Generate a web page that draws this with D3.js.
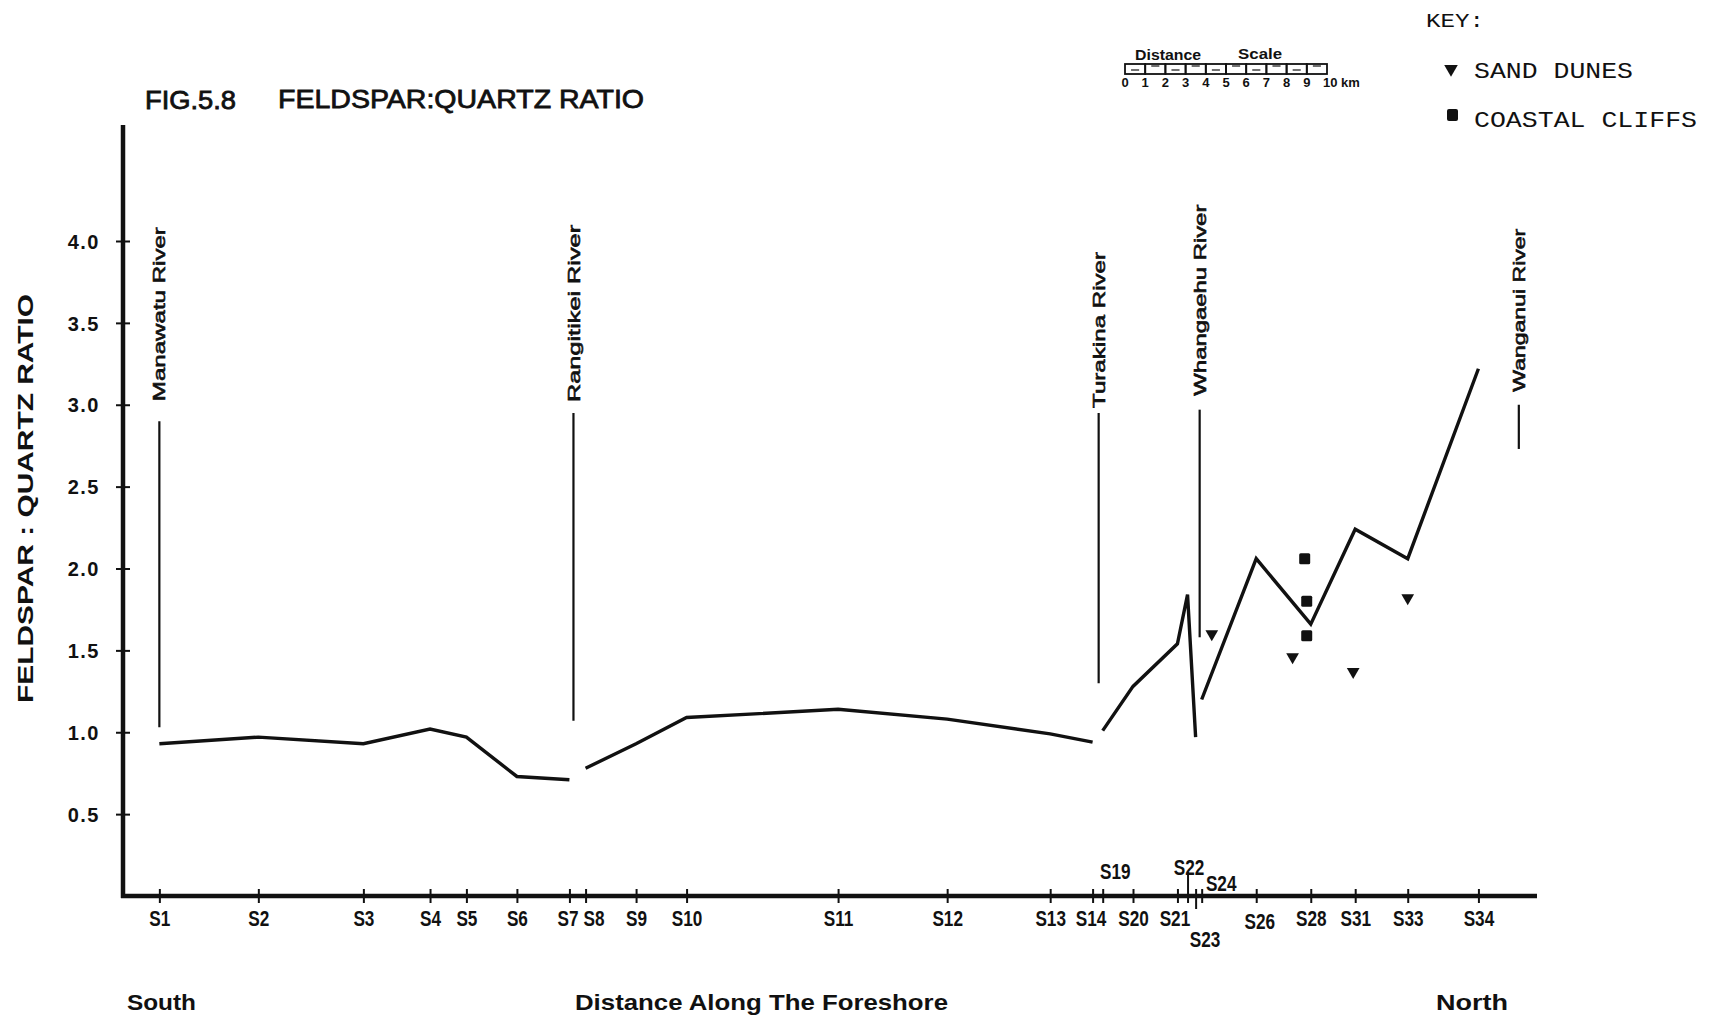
<!DOCTYPE html>
<html>
<head>
<meta charset="utf-8">
<title>Fig. 5.8 Feldspar:Quartz Ratio</title>
<script src="https://cdn.jsdelivr.net/npm/d3@7"></script>
<style>
  html, body { margin: 0; padding: 0; background: #fff; }
  svg { display: block; }
  text { fill: #111; }
</style>
</head>
<body>
<svg id="chart" width="1709" height="1026"></svg>
<script>
// ---- Sampling stations along the foreshore, south to north ----
const stations = ["S1","S2","S3","S4","S5","S6","S7","S8","S9","S10","S11","S12","S13","S14",
                  "S19","S20","S21","S22","S23","S24","S26","S28","S31","S33","S34"];
// distance along the foreshore (km)
const stationKm = [1.8, 6.7, 11.9, 15.2, 17.0, 19.5, 22.1, 22.9, 25.4, 27.9, 35.4, 40.8, 45.9, 48.0,
                   48.5, 50.0, 52.2, 52.7, 53.1, 53.4, 56.1, 58.8, 61.0, 63.6, 67.1];
// feldspar:quartz ratio of the foreshore sand
const ratio = [0.93, 0.97, 0.93, 1.02, 0.97, 0.73, 0.71, 0.78, 0.93, 1.09, 1.14, 1.08, 0.99, 0.94,
               1.01, 1.28, 1.54, 1.84, 0.97, 1.20, 2.06, 1.66, 2.24, 2.06, 3.22];
// reach between river mouths (the profile is broken at each river)
const reach = [0,0,0,0,0,0,0, 1,1,1,1,1,1,1, 2,2,2,2,2, 3,3,3,3,3,3];

// ---- Back-shore samples ----
const duneKm = [53.9, 57.9, 60.9, 63.6];
const duneRatio = [1.60, 1.46, 1.37, 1.82];
const cliffKm = [58.5, 58.6, 58.6];
const cliffRatio = [2.06, 1.80, 1.59];

// ---- River mouths ----
const riverNames = ["Manawatu River", "Rangitikei River", "Turakina River", "Whangaehu  River", "Wanganui River"];
const riverKm = [1.8, 22.3, 48.3, 53.3, 69.1];
const riverTop = [2.90, 2.95, 2.95, 2.97, 3.00];
const riverBottom = [1.03, 1.07, 1.30, 1.58, 2.73];

// ---- Axis ticks ----
const yTicks = [0.5, 1.0, 1.5, 2.0, 2.5, 3.0, 3.5, 4.0];
const scaleKm = [0,1,2,3,4,5,6,7,8,9,10];

// ---------------------------------------------------------------
const svg = d3.select("#chart");
const sans = "'Liberation Sans', Arial, Helvetica, sans-serif";
const mono = "'Liberation Mono', 'Courier New', monospace";

const x = d3.scaleLinear().domain([0, 70]).range([123, 1537]);
const y = d3.scaleLinear().domain([0, 4]).range([896, 241]);

// squeeze a text element horizontally to a given width
function fitWidth(sel, w) {
  sel.attr("textLength", w).attr("lengthAdjust", "spacingAndGlyphs");
}
function condense(sel, k) {
  sel.each(function () {
    const len = this.getComputedTextLength();
    d3.select(this).attr("textLength", len * k).attr("lengthAdjust", "spacingAndGlyphs");
  });
}
// medium weight: regular face with a thin outline
function medium(sel, w) {
  sel.style("font-weight", "normal").attr("stroke", "#111").attr("stroke-width", w);
}

// ---- Titles ----
svg.append("text").attr("x", 145).attr("y", 109)
  .style("font-family", sans).style("font-size", "25px")
  .text("FIG.5.8").call(medium, 0.8).call(fitWidth, 91);
svg.append("text").attr("x", 278).attr("y", 108)
  .style("font-family", sans).style("font-size", "26px")
  .text("FELDSPAR:QUARTZ RATIO").call(medium, 0.8).call(fitWidth, 366);

// ---- Y axis ----
const yAxis = d3.axisLeft(y).tickValues(yTicks).tickFormat(d3.format(".1f")).tickPadding(0);
const gy = svg.append("g").attr("transform", `translate(${x(0)},0)`).call(yAxis);
gy.select(".domain").remove();
gy.selectAll(".tick line").attr("x1", -7).attr("x2", 7).attr("stroke", "#111").attr("stroke-width", 2);
gy.selectAll(".tick text").attr("x", -23).attr("dy", "0.36em")
  .style("font-family", sans).style("font-size", "20px").style("font-weight", "bold")
  .style("letter-spacing", "1.5px").attr("fill", "#111");
svg.append("line").attr("x1", x(0)).attr("x2", x(0)).attr("y1", 125).attr("y2", y(0) + 2)
  .attr("stroke", "#111").attr("stroke-width", 4.5);

svg.append("text").attr("transform", `translate(33,${(294 + 703) / 2}) rotate(-90)`)
  .attr("text-anchor", "middle")
  .style("font-family", sans).style("font-size", "22px").style("font-weight", "bold")
  .text("FELDSPAR : QUARTZ RATIO").call(fitWidth, 409);

// ---- X axis ----
const xAxis = d3.axisBottom(x).tickValues(stationKm).tickFormat((d, i) => stations[i]).tickPadding(0);
const gx = svg.append("g").attr("transform", `translate(0,${y(0)})`).call(xAxis);
gx.select(".domain").remove();
gx.selectAll(".tick line").attr("y1", -7).attr("y2", 7).attr("stroke", "#111").attr("stroke-width", 2);
svg.append("line").attr("x1", x(0) - 2).attr("x2", 1537).attr("y1", y(0)).attr("y2", y(0))
  .attr("stroke", "#111").attr("stroke-width", 4.5);

// label placement for the crowded stations
const labelShift = {
  S7: [-2, 0], S8: [8, 0], S14: [-2, 0], S21: [-3, 0],
  S19: [12, -47], S22: [1, -51], S24: [19, -35], S23: [9, 21], S26: [3, 3]
};
gx.selectAll(".tick text")
  .attr("x", (d, i) => (labelShift[stations[i]] || [0, 0])[0])
  .attr("y", (d, i) => 22 + (labelShift[stations[i]] || [0, 0])[1])
  .attr("dy", "0.36em")
  .style("font-family", sans).style("font-size", "22px").style("font-weight", "bold")
  .attr("fill", "#111")
  .call(condense, 0.78);
// S22 tick reaches up to its label, S23 tick drops to its label
gx.selectAll(".tick line").filter((d, i) => stations[i] === "S22").attr("y1", -24);
gx.selectAll(".tick line").filter((d, i) => stations[i] === "S23").attr("y2", 13);

svg.append("text").attr("x", 127).attr("y", 1010)
  .style("font-family", sans).style("font-size", "22px").style("font-weight", "bold")
  .text("South").call(fitWidth, 69);
svg.append("text").attr("x", 575).attr("y", 1010)
  .style("font-family", sans).style("font-size", "22px").style("font-weight", "bold")
  .text("Distance  Along The Foreshore").call(fitWidth, 373);
svg.append("text").attr("x", 1436).attr("y", 1010)
  .style("font-family", sans).style("font-size", "22px").style("font-weight", "bold")
  .text("North").call(fitWidth, 72);

// ---- River mouths ----
const labelGap = [20, 11, 5, 14, 13];
const labelLen = [174, 177, 156, 191, 163];
const rivers = svg.append("g");
riverNames.forEach((name, i) => {
  const rx = x(riverKm[i]);
  rivers.append("line").attr("x1", rx).attr("x2", rx)
    .attr("y1", y(riverTop[i])).attr("y2", y(riverBottom[i]))
    .attr("stroke", "#111").attr("stroke-width", 2.2);
  rivers.append("text")
    .attr("transform", `translate(${rx},${y(riverTop[i]) - labelGap[i]}) rotate(-90)`)
    .attr("dy", "0.36em")
    .style("font-family", sans).style("font-size", "17px")
    .text(name).call(medium, 0.6).call(fitWidth, labelLen[i]);
});

// ---- Ratio profile ----
const pts = stations.map((s, i) => ({ km: stationKm[i], v: ratio[i], r: reach[i] }));
const line = d3.line().x(d => x(d.km)).y(d => y(d.v));
svg.append("g").selectAll("path")
  .data(d3.groups(pts, d => d.r).map(g => g[1]))
  .join("path")
  .attr("d", line)
  .attr("fill", "none").attr("stroke", "#111").attr("stroke-width", 3.4)
  .attr("stroke-linejoin", "miter");

// ---- Sand dune and coastal cliff samples ----
const tri = d3.symbol().type(d3.symbolTriangle).size(70);
svg.append("g").selectAll("path")
  .data(duneKm.map((k, i) => [k, duneRatio[i]]))
  .join("path")
  .attr("d", tri)
  .attr("transform", d => `translate(${x(d[0])},${y(d[1])}) rotate(180)`)
  .attr("fill", "#111");
svg.append("g").selectAll("rect")
  .data(cliffKm.map((k, i) => [k, cliffRatio[i]]))
  .join("rect")
  .attr("x", d => x(d[0]) - 5.5).attr("y", d => y(d[1]) - 5.5)
  .attr("width", 11).attr("height", 11).attr("rx", 1.5)
  .attr("fill", "#111");

// ---- Key ----
svg.append("text").attr("x", 1426).attr("y", 27)
  .style("font-family", mono).style("font-size", "20px").text("KEY:").call(fitWidth, 58);
svg.append("path").attr("d", d3.symbol().type(d3.symbolTriangle).size(80))
  .attr("transform", "translate(1451,69) rotate(180)").attr("fill", "#111");
svg.append("text").attr("x", 1474).attr("y", 78)
  .style("font-family", mono).style("font-size", "22px").text("SAND DUNES").call(fitWidth, 159);
svg.append("rect").attr("x", 1447).attr("y", 109).attr("width", 11).attr("height", 12).attr("rx", 2)
  .attr("fill", "#111");
svg.append("text").attr("x", 1474).attr("y", 127)
  .style("font-family", mono).style("font-size", "22px").text("COASTAL CLIFFS").call(fitWidth, 223);

// ---- Distance scale bar (same km scale as the x axis) ----
const sb = svg.append("g").attr("transform", `translate(${1125 - x(0)},0)`);
sb.append("text").attr("x", x(0.5)).attr("y", 60)
  .style("font-family", sans).style("font-size", "15px").style("font-weight", "bold")
  .text("Distance").call(fitWidth, 66);
sb.append("text").attr("x", x(5.6)).attr("y", 59)
  .style("font-family", sans).style("font-size", "15px").style("font-weight", "bold")
  .text("Scale").call(fitWidth, 44);
sb.selectAll("rect.box").data(scaleKm.slice(0, 10)).join("rect").attr("class", "box")
  .attr("x", d => x(d)).attr("y", 64).attr("width", x(1) - x(0)).attr("height", 10)
  .attr("fill", "none").attr("stroke", "#111").attr("stroke-width", 1.8);
sb.selectAll("line.dash").data(scaleKm.slice(0, 10)).join("line").attr("class", "dash")
  .attr("x1", d => x(d + 0.3)).attr("x2", d => x(d + 0.7))
  .attr("y1", d => (d % 2 ? 66 : 70)).attr("y2", d => (d % 2 ? 66 : 70))
  .attr("stroke", "#111").attr("stroke-width", 1.2);
sb.selectAll("text.km").data(scaleKm).join("text").attr("class", "km")
  .attr("x", d => x(d)).attr("y", 87)
  .attr("text-anchor", d => (d === 10 ? "start" : "middle"))
  .attr("dx", d => (d === 10 ? -4 : 0))
  .style("font-family", sans).style("font-size", "13px").style("font-weight", "bold")
  .text(d => (d === 10 ? "10 km" : d));
</script>
</body>
</html>
